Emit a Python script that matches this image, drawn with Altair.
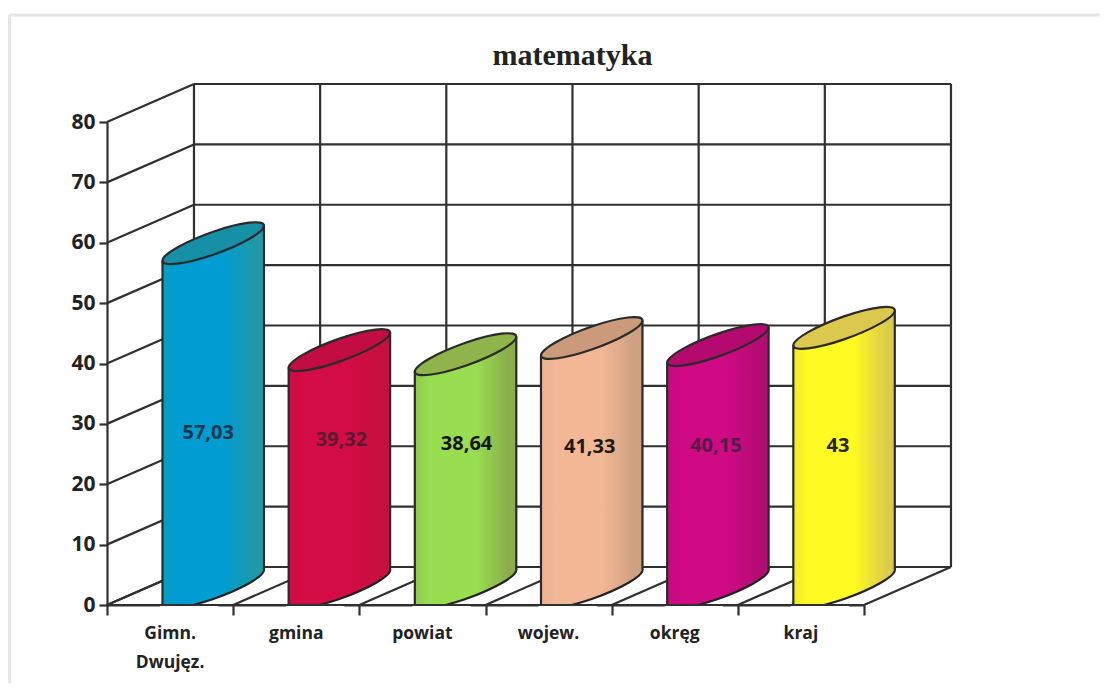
import altair as alt
import pandas as pd

# ---- values
categories = ["Gimn.\nDwujęz.", "gmina", "powiat", "wojew.", "okręg", "kraj"]
values = [57.03, 39.32, 38.64, 41.33, 40.15, 43]
value_labels = ["57,03", "39,32", "38,64", "41,33", "40,15", "43"]
title_text = "matematyka"
y_ticks = [0, 10, 20, 30, 40, 50, 60, 70, 80]

# ---- styles
mid_colors = ["#009CD2", "#D30C45", "#98DE50", "#F3B795", "#CE0A84", "#FFFA22"]
left_colors = ["#079DC0", "#C90E44", "#8FCB4E", "#EDB292", "#C60A80", "#F2EA2A"]
right_colors = ["#1F9AA6", "#C5103F", "#8BAE4A", "#CDA081", "#B30C72", "#DCCB4A"]
cap_colors = ["#1590A6", "#C20D42", "#8FB44C", "#CB9A7A", "#B4096F", "#DBC84D"]
label_colors = ["#17394F", "#5A1B30", "#141414", "#1A1A1A", "#561A48", "#262414"]
label_dx = [-5, 2, 1, -2, -2, -6]
label_dy = [-15, -8, -4, -1, -2, -2]
INK = "#303030"
FONT = "Open Sans"

# ---- projection of the fake 3D box (pixels per unit and depth offset)
PX_X = 126.2
PX_Y = 6.04
DEPTH_X = 87 / PX_X          # in category units
DEPTH_Y = 38 / PX_Y          # in value units
BAR_L = 55.5 / PX_X
BAR_W = 101.5 / PX_X
BAR_DY = 35 / PX_Y
N = len(categories)

xs = alt.Scale(domain=[0, N], nice=False, zero=False)
ys = alt.Scale(domain=[0, 80], nice=False, zero=False)

x_axis = alt.Axis(values=list(range(N + 1)), labels=False, grid=False, title=None,
                  domainColor=INK, domainWidth=2.2, tickColor=INK, tickWidth=2.2, tickSize=10)
y_axis = alt.Axis(values=y_ticks, grid=False, title=None, domainColor=INK, domainWidth=2.2,
                  tickColor=INK, tickWidth=2.2, tickSize=8, labelPadding=4,
                  labelFont=FONT, labelFontWeight="bold", labelFontSize=21,
                  labelColor="#222222")


def ax(field="x"):
    return alt.X(f"{field}:Q", scale=xs, axis=x_axis, title=None)


def ay(field="y"):
    return alt.Y(f"{field}:Q", scale=ys, axis=y_axis, title=None)


def rules(rows, color=INK, width=2.2):
    return alt.Chart(pd.DataFrame(rows, columns=["x", "y", "x2", "y2"])).mark_rule(
        color=color, strokeWidth=width
    ).encode(x=ax(), y=ay(), x2="x2:Q", y2="y2:Q")


# sheared ellipse as a custom symbol, unit half width
def ellipse_path(slope, b):
    k = 0.5523
    pts = []
    circle = [(1, 0), (1, k), (k, 1), (0, 1), (-k, 1), (-1, k), (-1, 0),
              (-1, -k), (-k, -1), (0, -1), (k, -1), (1, -k), (1, 0)]
    for u, v in circle:
        pts.append((round(u, 4), round(-slope * u + b * v, 4)))
    d = f"M{pts[0][0]} {pts[0][1]}"
    for i in range(1, len(pts), 3):
        d += " C" + " ".join(f"{p[0]} {p[1]}" for p in pts[i:i + 3])
    return d + " Z"


half_w_px = BAR_W * PX_X / 2
CAP = ellipse_path((BAR_DY * PX_Y / 2) / half_w_px, 11.5 / half_w_px)
CAP_SIZE = (2 * half_w_px) ** 2

layers = []

# scan frame
LEFT_FRAME = (9.5 - 107) / PX_X
TOP_FRAME = 80 + (122 - 15) / PX_Y
layers.append(rules([[LEFT_FRAME, -13, LEFT_FRAME, TOP_FRAME],
                     [LEFT_FRAME, TOP_FRAME, (1100 - 107) / PX_X, TOP_FRAME]],
                    color="#E6E6E6", width=3))

# left wall and back wall horizontals
rows = []
for v in y_ticks:
    rows.append([0, v, DEPTH_X, v + DEPTH_Y])
    rows.append([DEPTH_X, v + DEPTH_Y, N + DEPTH_X, v + DEPTH_Y])
# back wall verticals and floor depth lines
for i in range(N + 1):
    rows.append([i + DEPTH_X, DEPTH_Y, i + DEPTH_X, 80 + DEPTH_Y])
    rows.append([i, 0, i + DEPTH_X, DEPTH_Y])
layers.append(rules(rows))

# cylinders
for i, v in enumerate(values):
    x0 = i + BAR_L
    x1 = x0 + BAR_W
    xc = (x0 + x1) / 2
    grad = alt.LinearGradient(
        gradient="linear", x1=0, x2=1, y1=0, y2=0,
        stops=[alt.GradientStop(offset=0, color=left_colors[i]),
               alt.GradientStop(offset=0.15, color=mid_colors[i]),
               alt.GradientStop(offset=0.6, color=mid_colors[i]),
               alt.GradientStop(offset=0.92, color=right_colors[i]),
               alt.GradientStop(offset=1, color=right_colors[i])])
    # bottom ellipse
    layers.append(
        alt.Chart(pd.DataFrame({"x": [xc], "y": [BAR_DY / 2]})).mark_point(
            shape=CAP, size=CAP_SIZE, filled=True, fill=grad, stroke="#222222",
            strokeWidth=2.2, opacity=1
        ).encode(x=ax(), y=ay())
    )
    # body
    layers.append(
        alt.Chart(pd.DataFrame({"x": [x0, x1], "y": [v, v + BAR_DY], "y2": [0, BAR_DY]})).mark_area(
            color=grad, orient="vertical", opacity=1
        ).encode(x=ax(), y=ay(), y2="y2:Q")
    )
    # the cylinder stops at the floor line: mask what the ellipse shows below it
    layers.append(
        alt.Chart(pd.DataFrame({"x": [x0 - 0.02, x0 + BAR_W * 0.55], "y": [0, 0], "y2": [-1.2, -1.2]})).mark_area(
            color="white", orient="vertical", opacity=1
        ).encode(x=ax(), y=ay(), y2="y2:Q")
    )
    # side edges
    layers.append(rules([[x0, 0, x0, v], [x1, BAR_DY, x1, v + BAR_DY]], color="#2A2A2A"))
    # top cap
    layers.append(
        alt.Chart(pd.DataFrame({"x": [xc], "y": [v + BAR_DY / 2]})).mark_point(
            shape=CAP, size=CAP_SIZE, filled=True, fill=cap_colors[i], stroke="#2A2A2A",
            strokeWidth=2.2, opacity=1
        ).encode(x=ax(), y=ay())
    )
    # value label
    layers.append(
        alt.Chart(pd.DataFrame({"x": [xc], "y": [26], "t": [value_labels[i]]})).mark_text(
            font=FONT, fontWeight="bold", fontSize=20, color=label_colors[i],
            dx=label_dx[i], dy=label_dy[i], baseline="middle", align="center"
        ).encode(x=ax(), y=ay(), text="t:N")
    )

# front floor line above the masks
layers.append(rules([[0, 0, N, 0]]))

# category labels
layers.append(
    alt.Chart(pd.DataFrame({"x": [i + 0.5 for i in range(N)], "y": [-5.6] * N, "t": categories})).mark_text(
        font=FONT, fontWeight="bold", fontSize=17.5, color="#222222", lineBreak="\n", lineHeight=29,
        baseline="alphabetic", align="center"
    ).encode(x=ax(), y=ay(), text="t:N")
)

chart = alt.layer(*layers).properties(
    width=int(N * PX_X),
    height=int(80 * PX_Y),
    title=alt.TitleParams(title_text, font="Liberation Serif", fontSize=30, fontWeight="bold",
                          color="#222222", anchor="middle", dx=87, offset=-57),
    autosize=alt.AutoSizeParams(type="none"),
    padding={"left": 99, "top": 114, "right": 237, "bottom": 78},
    background="white",
).configure_view(stroke=None)

chart.save("out.html", embed_options={"renderer": "svg", "actions": False})
